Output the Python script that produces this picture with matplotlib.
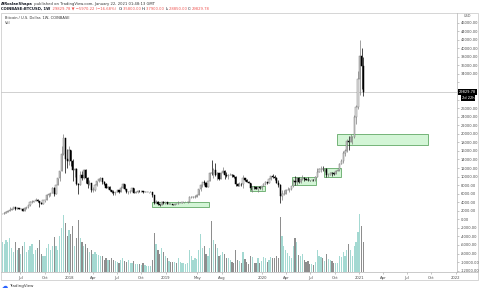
import numpy as np
import pandas as pd
import matplotlib
matplotlib.use('Agg')
import matplotlib.pyplot as plt
import matplotlib.dates as mdates
from matplotlib.patches import Rectangle
from matplotlib.lines import Line2D

# COINBASE:BTCUSD weekly candles, one entry per week starting on Monday
first_week = '2017-04-24'
first_open = 1250

closes = [
    # 2017
    1348, 1550, 1720, 2050, 2200, 2510, 2950, 2520, 2590, 2500, 2510, 1930, 2740, 2770, 3250, 4070, 4090, 4350,
    4600, 4230, 3700, 3630, 4400, 4610, 5700, 6010, 6150, 7360, 5860, 8040, 9740, 11300, 15300, 19000, 14100, 13600,
    # 2018
    16200, 13600, 11600, 11800, 8200, 8100, 10400, 9600, 11500, 9550, 8200, 8500, 6850, 6900, 8050, 8900, 9400, 9650,
    8700, 8200, 7350, 7500, 6780, 6450, 6150, 6380, 6750, 6350, 7400, 8200, 7030, 6320, 6500, 6700, 7270, 6250,
    6500, 6700, 6600, 6600, 6300, 6400, 6400, 6400, 6400, 5600, 3800, 4050, 3550, 3250, 3950, 3850,
    # 2019
    4030, 3550, 3560, 3540, 3460, 3660, 3650, 3850, 3850, 3950, 4000, 4000, 4150, 5100, 5100, 5300, 5300, 5800,
    7000, 8000, 8700, 8550, 7650, 8850, 10850, 10800, 11450, 10250, 10750, 9500, 10800, 11300, 10300, 10150, 10380,
    10400, 10350, 9950, 8200, 7900, 8300, 8200, 9550, 9200, 8800, 8500, 7300, 7520, 7500, 7100, 7500, 7400,
    # 2020
    7760, 8190, 8700, 8600, 9350, 10150, 9900, 9660, 8530, 8040, 5360, 5830, 5900, 6780, 6900, 7120, 7700, 8900,
    8730, 9680, 8720, 9450, 9750, 9390, 9300, 9100, 9080, 9250, 9170, 9920, 11050, 11680, 11860, 11650, 11700,
    10280, 10330, 10920, 10770, 10660, 11380, 11500, 13040, 13750, 15480, 15950, 18410, 18180, 19150, 19260, 23850, 26280,
    # 2021
    32780, 38150, 35800, 29829.78,
]
highs = [
    1350, 1600, 1850, 2150, 2790, 2560, 2980, 2980, 2780, 2640, 2680, 2600, 2930, 2830, 3290, 4200, 4480, 4370,
    4980, 4750, 4250, 4100, 4400, 4630, 5860, 6200, 6200, 7600, 7590, 8100, 9750, 11400, 17170, 19890, 19000, 16500,
    17250, 16300, 14100, 12000, 11900, 8600, 11300, 11300, 11700, 11700, 9900, 9200, 8500, 7500, 8250, 9000, 9750, 9980,
    9700, 8900, 8500, 7700, 7770, 6880, 6850, 6500, 6850, 6800, 7700, 8500, 8250, 7150, 6600, 6800, 7420, 7400,
    6600, 6800, 6750, 6700, 6700, 6650, 6540, 6500, 6600, 6500, 5630, 4400, 4200, 3600, 4200, 4240,
    4100, 4100, 3750, 3650, 3560, 3720, 3690, 4200, 3920, 3960, 4040, 4100, 4170, 5350, 5470, 5350, 5620, 5900,
    7100, 8350, 8800, 9100, 8700, 8900, 10950, 13880, 12000, 13200, 11100, 10900, 10950, 12300, 11550, 10950, 10600,
    10900, 10550, 10400, 10080, 8520, 8830, 8400, 10370, 9600, 9500, 9050, 8500, 7850, 7800, 7600, 7500, 7700,
    7800, 8450, 9000, 8750, 9600, 10150, 10500, 10250, 9950, 9200, 8200, 6900, 6950, 7200, 7460, 7300, 7780, 9460,
    10070, 9950, 9900, 9750, 10430, 10000, 9750, 9800, 9300, 9470, 9350, 10100, 12100, 11900, 12490, 12470, 11800,
    12100, 10780, 11100, 10950, 10960, 11500, 11750, 13200, 14100, 15960, 16500, 18800, 19480, 19920, 19420, 24300, 26800,
    34800, 41950, 40100, 37900,
]
lows = [
    1240, 1340, 1550, 1730, 1960, 2120, 2460, 2100, 2450, 2300, 2460, 1830, 1900, 2500, 2670, 3200, 3800, 3980,
    4350, 4100, 2980, 3560, 3650, 4150, 4600, 5100, 5370, 6130, 5500, 5850, 8000, 9000, 11200, 15100, 10800, 12050,
    12800, 12500, 9000, 10000, 7950, 5920, 8000, 9300, 9500, 8400, 7300, 8100, 6500, 6450, 6600, 7850, 8700, 9050,
    8350, 7950, 7250, 7050, 6650, 6120, 5750, 5800, 6300, 6070, 6300, 7350, 6950, 6130, 5900, 6250, 6700, 6180,
    6150, 6150, 6450, 6480, 6200, 6300, 6360, 6220, 6350, 5200, 3560, 3700, 3250, 3150, 3250, 3600,
    3650, 3500, 3480, 3470, 3360, 3350, 3570, 3620, 3700, 3700, 3800, 3950, 3900, 4100, 4950, 5000, 5000, 5250,
    5700, 6600, 7500, 8100, 7450, 7550, 8850, 10300, 9700, 10100, 9100, 9200, 9400, 10800, 9500, 9850, 9350,
    10350, 9850, 9600, 7700, 7800, 7780, 7800, 7300, 8950, 8700, 8380, 6800, 6500, 7150, 7070, 6450, 7100,
    6870, 7700, 8100, 8250, 8550, 9100, 9700, 9300, 8450, 7600, 3850, 4450, 5680, 5860, 6760, 6500, 6800, 7650,
    8100, 8100, 8600, 8600, 9300, 8900, 9200, 8900, 8930, 9050, 9000, 9050, 9900, 10950, 11150, 11350, 11100,
    9900, 9900, 10250, 10150, 10380, 10550, 11250, 11400, 12900, 13250, 14850, 15800, 16300, 18000, 17600, 19000, 22400,
    25900, 29000, 30400, 28850,
]
# weekly volume, thousand BTC
volumes = [
    150, 140, 160, 150, 170, 120, 100, 150, 110, 120, 90, 130, 150, 100, 110, 130, 140, 90,
    110, 120, 160, 90, 80, 80, 120, 140, 110, 130, 175, 130, 110, 180, 220, 285, 245, 180,
    210, 190, 230, 130, 170, 260, 170, 150, 130, 140, 120, 100, 110, 90, 100, 90, 85, 80,
    80, 60, 70, 60, 60, 70, 60, 55, 50, 45, 60, 70, 55, 50, 60, 45, 45, 55,
    40, 40, 40, 35, 45, 35, 30, 30, 30, 60, 195, 140, 110, 90, 120, 100,
    80, 70, 55, 50, 50, 50, 45, 70, 50, 45, 45, 40, 45, 110, 80, 60, 70, 65,
    110, 190, 120, 130, 90, 80, 120, 255, 160, 140, 120, 80, 85, 100, 90, 70, 70,
    60, 50, 45, 110, 60, 55, 45, 100, 65, 50, 40, 80, 75, 45, 45, 70, 45,
    55, 75, 70, 50, 60, 75, 70, 70, 80, 70, 275, 180, 130, 110, 95, 80, 70, 130,
    170, 150, 85, 80, 90, 60, 50, 55, 40, 40, 35, 50, 110, 80, 75, 70, 55,
    90, 65, 60, 55, 45, 45, 45, 80, 75, 100, 80, 110, 140, 110, 80, 130, 150,
    200, 290, 230, 150,
]

# green rectangles drawn on the chart
box_start = ['2018-11-12', '2019-11-16', '2020-04-24', '2020-08-22', '2020-10-09']
box_end = ['2019-06-14', '2020-01-12', '2020-07-23', '2020-10-25', '2021-09-20']
box_low = [2800, 6600, 8000, 9960, 17380]
box_high = [4050, 7800, 9970, 11930, 19880]

tick_dates = ['2017-07-01', '2017-10-01', '2018-01-01', '2018-04-01', '2018-07-01', '2018-10-01',
              '2019-01-01', '2019-05-01', '2019-08-01', '2020-01-01', '2020-04-01', '2020-07-01',
              '2020-10-01', '2021-01-01', '2021-04-01', '2021-07-01', '2021-10-01', '2022-01-01']
tick_labels = ['Jul', 'Oct', '2018', 'Apr', 'Jul', 'Oct', '2019', 'May', 'Aug', '2020', 'Apr', 'Jul',
               'Oct', '2021', 'Apr', 'Jul', 'Oct', '2022']
price_ticks = list(range(-12000, 46001, 2000))

c = np.array(closes, dtype=float)
h = np.array(highs, dtype=float)
l = np.array(lows, dtype=float)
o = np.concatenate([[first_open], c[:-1]])
v = np.array(volumes, dtype=float)
weeks = pd.date_range(first_week, periods=len(c), freq='7D')
x = mdates.date2num(weeks)
up = c >= o

W, H = 480, 292
fig = plt.figure(figsize=(W / 100, H / 100), dpi=100)
fig.patch.set_facecolor('white')


def fx(px):
    return px / W


def fy(py):
    return 1 - py / H


ax = fig.add_axes([fx(1), fy(272), (457 - 1) / W, (272 - 13) / H])
axv = ax.twinx()
ax.set_zorder(axv.get_zorder() + 1)
ax.patch.set_visible(False)

# volume overlay
axv.bar(x, v, width=4.6, color=np.where(up, '#a4d9d2', '#8e8e8e'), linewidth=0)
axv.set_ylim(0, 1295)
axv.set_yticks([])
for s in axv.spines.values():
    s.set_visible(False)

# boxes
for b0, b1, lo, hi in zip(box_start, box_end, box_low, box_high):
    d0 = mdates.date2num(pd.Timestamp(b0))
    d1 = mdates.date2num(pd.Timestamp(b1))
    ax.add_patch(Rectangle((d0, lo), d1 - d0, hi - lo, facecolor='#d3f5d6', edgecolor='#62a866',
                           lw=0.6, zorder=1))

# last price line
ax.axhline(c[-1], color='#c9c9c9', lw=0.6, zorder=0.5)

# candles
ax.vlines(x[up], l[up], h[up], color='#7a7a7a', lw=0.5, zorder=2)
ax.vlines(x[~up], l[~up], h[~up], color='black', lw=0.5, zorder=2)
ax.bar(x[up], (c - o)[up], bottom=o[up], width=4.6, color='#e2e2e2', edgecolor='#7a7a7a', lw=0.35, zorder=3)
ax.bar(x[~up], (o - c)[~up], bottom=c[~up], width=4.6, color='black', edgecolor='black', lw=0.35, zorder=3)

ref = mdates.date2num(pd.Timestamp('2018-01-01'))
ax.set_xlim(ref - 257, ref + 1466.4)
ax.set_ylim(-12327, 48257)

ax.yaxis.tick_right()
ax.set_yticks(price_ticks)
# the scale hides the labels sitting under the last-price tag
ax.set_yticklabels(['' if abs(p - c[-1]) < 2500 else f'{p:.2f}' for p in price_ticks])
ax.tick_params(axis='y', labelsize=2.6, labelcolor='#4a4a4a', color='#9a9a9a', length=1.5, width=0.4, pad=1.2)
ax.set_xticks(mdates.date2num(pd.to_datetime(tick_dates)))
ax.set_xticklabels(tick_labels)
ax.tick_params(axis='x', labelsize=2.7, labelcolor='#4a4a4a', color='#9a9a9a', length=1.5, width=0.4, pad=1.5)
for side in ['left', 'top']:
    ax.spines[side].set_visible(False)
for side in ['right', 'bottom']:
    ax.spines[side].set_color('#b5b5b5')
    ax.spines[side].set_linewidth(0.5)

# last price tag and bar countdown on the price scale
ax.annotate(f'{c[-1]:.2f}', xy=(1, c[-1]), xycoords=('axes fraction', 'data'), xytext=(1.2, 0),
            textcoords='offset points', ha='left', va='center', fontsize=2.6, color='white',
            bbox=dict(boxstyle='square,pad=0.3', fc='black', ec='none'))
ax.annotate('2d 22h', xy=(1, c[-1]), xycoords=('axes fraction', 'data'), xytext=(3.5, -4.3),
            textcoords='offset points', ha='left', va='center', fontsize=2.6, color='white',
            bbox=dict(boxstyle='square,pad=0.3', fc='black', ec='none'))
fig.text(fx(467), fy(16), 'USD', fontsize=2.5, color='#555555', ha='center', va='center')

# frame around chart and scale
fig.add_artist(Rectangle((fx(1), fy(280)), (478 - 1) / W, (280 - 13) / H, transform=fig.transFigure,
                         fill=False, ec='#cfcfcf', lw=0.6))
fig.add_artist(Line2D([fx(457), fx(478)], [fy(272), fy(272)], transform=fig.transFigure,
                      color='#b5b5b5', lw=0.5))


def text_row(y, parts, x0=1.0, size=2.7):
    r = fig.canvas.get_renderer()
    px = x0
    for s, col, wt in parts:
        t = fig.text(fx(px), fy(y), s, fontsize=size, color=col, weight=wt, ha='left', va='center')
        px += t.get_window_extent(r).width


red = '#ef5350'
dark = '#131722'
chg = c[-1] - o[-1]
text_row(3.5, [('AlRoslanShapa', dark, 'bold'),
               (' published on TradingView.com, January 22, 2021 01:48:13 GMT', '#333333', 'normal')])
text_row(9, [('COINBASE:BTCUSD, 1W', dark, 'bold'),
             (f'  {c[-1]:.2f} ▼ −{abs(chg):.2f} (−{abs(chg) / o[-1] * 100:.2f}%)  ', red, 'normal'),
             ('O:', dark, 'normal'), (f'{o[-1]:.2f} ', red, 'normal'),
             ('H:', dark, 'normal'), (f'{h[-1]:.2f} ', red, 'normal'),
             ('L:', dark, 'normal'), (f'{l[-1]:.2f} ', red, 'normal'),
             ('C:', dark, 'normal'), (f'{c[-1]:.2f}', red, 'normal')])

fig.text(fx(5), fy(18.3), 'Bitcoin / U.S. Dollar, 1W, COINBASE', fontsize=2.6, color='#333333', va='center')
fig.text(fx(5), fy(23.3), 'Vol', fontsize=2.6, color='#333333', va='center')

# footer logo
fig.text(fx(2), fy(286.5), '☁', fontsize=4.5, color='#2962ff', va='center')
fig.text(fx(9), fy(286.5), 'TradingView', fontsize=2.9, color='#333333', va='center')

plt.savefig('out.png', dpi=100)
